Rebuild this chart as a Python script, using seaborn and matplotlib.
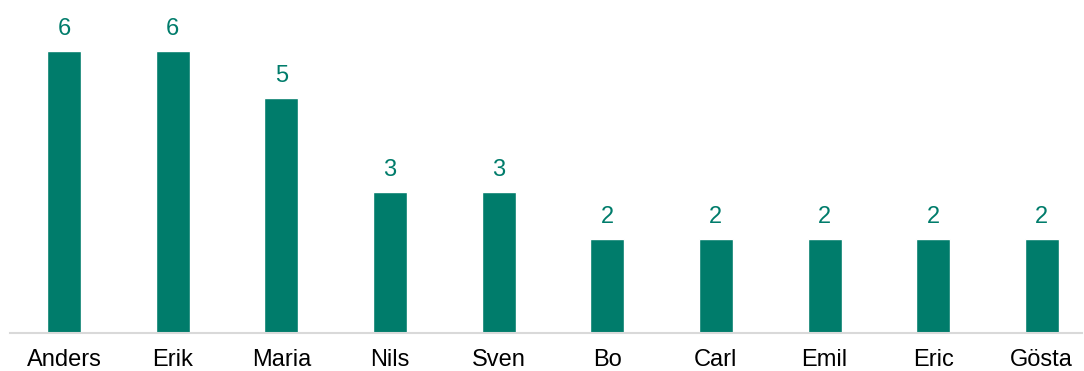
import matplotlib
matplotlib.use("Agg")
import matplotlib.pyplot as plt
import seaborn as sns
import pandas as pd

names = ["Anders", "Erik", "Maria", "Nils", "Sven", "Bo", "Carl", "Emil", "Eric", "Gösta"]
counts = [6, 6, 5, 3, 3, 2, 2, 2, 2, 2]

teal = "#007C6B"

sns.set_theme(style="white")
plt.rcParams["font.family"] = ["Liberation Sans", "DejaVu Sans"]

df = pd.DataFrame({"name": names, "count": counts})

fig = plt.figure(figsize=(10.84, 3.71), dpi=100)
ax = fig.add_axes([9.7 / 1084, 38 / 371, (1082 - 9.7) / 1084, 333 / 371])

sns.barplot(data=df, x="name", y="count", color=teal, saturation=1,
            width=0.313, ax=ax)

ax.set_xlim(-0.5, 9.37)
ax.set_ylim(0, 333 / 47)

for i, v in enumerate(counts):
    ax.annotate(str(v), xy=(i, v), xytext=(0, 16), textcoords="offset points",
                ha="center", va="center", color=teal, fontsize=17)

ax.set_xlabel("")
ax.set_ylabel("")
ax.set_yticks([])
ax.tick_params(axis="x", length=0, pad=11.3, labelsize=17, labelcolor="black")
for side in ["top", "right", "left"]:
    ax.spines[side].set_visible(False)
ax.spines["bottom"].set_color("#D9D9D9")
ax.spines["bottom"].set_linewidth(1.5)

fig.savefig("out.png", dpi=100)
